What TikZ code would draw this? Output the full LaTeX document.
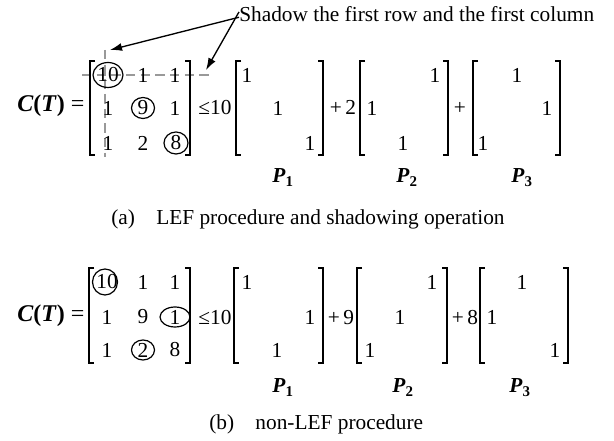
\documentclass[tikz,border=0pt]{standalone}
\usepackage{fontspec}
\setmainfont{Liberation Serif}
\usetikzlibrary{arrows.meta}

\tikzset{
  ent/.style={inner sep=0.75pt, font=\fontsize{16}{19}\selectfont},
  lhs/.style={inner sep=0.75pt, font=\fontsize{18}{21}\selectfont},
  brk/.style={line width=0.9pt},
  ring/.style={line width=0.9pt},
  shade/.style={gray!80, dash pattern=on 7pt off 4pt, line width=0.9pt},
  pointer/.style={-{Latex[length=9pt,width=6pt]}, line width=1pt},
}

\begin{document}
\begin{tikzpicture}[x=0.75pt,y=0.75pt,yscale=-1,xscale=1]
\useasboundingbox (0,0) rectangle (614,441);

%%%%%%%%%%%%%%%%%%%%%%%% (a) LEF
%Straight Lines [shadow row] 
\coordinate (hl) at (82,75);
\coordinate (hr) at (213,75);
\draw[shade] (hl) -- (hr) ;
%Straight Lines [shadow column] 
\coordinate (vt) at (105,50);
\coordinate (vb) at (105,157);
\draw[shade] (vt) -- (vb) ;

%Shape: Bracket [C]
\draw[brk] (95,61) -- (90,61) -- (90,155) -- (95,155) ;
\draw[brk] (185,61) -- (190,61) -- (190,155) -- (185,155) ;
%Shape: Bracket [P1]
\draw[brk] (241,61) -- (236,61) -- (236,155) -- (241,155) ;
\draw[brk] (318,61) -- (323,61) -- (323,155) -- (318,155) ;
%Shape: Bracket [P2]
\draw[brk] (365,61) -- (360,61) -- (360,155) -- (365,155) ;
\draw[brk] (443,61) -- (448,61) -- (448,155) -- (443,155) ;
%Shape: Bracket [P3]
\draw[brk] (478,61) -- (473,61) -- (473,155) -- (478,155) ;
\draw[brk] (555,61) -- (560,61) -- (560,155) -- (555,155) ;

% Text Node
\node[lhs, anchor=base west] (tct) at (16,112) {\textbf{\textit{C}}\textbf{(}\textbf{\textit{T}}\textbf{)} =};
% Text Node
\node[ent] (ta11) at (108,75) {10};
\node[ent] (ta12) at (143,75) {1};
\node[ent] (ta13) at (175,75) {1};
\node[ent] (ta21) at (108,108) {1};
\node[ent] (ta22) at (143,108) {9};
\node[ent] (ta23) at (175,108) {1};
\node[ent] (ta31) at (108,143) {1};
\node[ent] (ta32) at (143,143) {2};
\node[ent] (ta33) at (176,143) {8};
% Text Node
\node[ent, anchor=base] (tle) at (215,115) {≤10};
\node[ent] (tp1a) at (247,75) {1};
\node[ent] (tp1b) at (278,108) {1};
\node[ent] (tp1c) at (310,143) {1};
\node[ent, anchor=base] (tplus2) at (343,115) {+\,2};
\node[ent] (tp2a) at (435,75) {1};
\node[ent] (tp2b) at (372,108) {1};
\node[ent] (tp2c) at (403,143) {1};
\node[ent, anchor=base] (tplus) at (460,115) {+};
\node[ent] (tp3a) at (517,75) {1};
\node[ent] (tp3b) at (547,108) {1};
\node[ent] (tp3c) at (483,143) {1};
% Text Node
\node[ent, anchor=base] (tP1) at (283,183) {\textbf{\textit{P}}\textsubscript{\textbf{1}}};
\node[ent, anchor=base] (tP2) at (407,183) {\textbf{\textit{P}}\textsubscript{\textbf{2}}};
\node[ent, anchor=base] (tP3) at (522,183) {\textbf{\textit{P}}\textsubscript{\textbf{3}}};

%Shape: Ellipse [rings]
\draw[ring] (ta11) ellipse (15 and 12.5) ;
\draw[ring] (ta22) ellipse (11.5 and 10.5) ;
\draw[ring] (ta33) ellipse (12 and 11) ;

% Text Node
\node[ent, anchor=base west, inner sep=0pt] (shadowlbl) at (239,22) {Shadow the first row and the first column};
\coordinate (tipA) at (110,50);
\coordinate (tipB) at (206,70);
%Straight Lines [pointers] 
\draw[pointer] ([yshift=2pt]shadowlbl.west) -- (tipA) ;
\draw[pointer] ([yshift=-2pt]shadowlbl.west) -- (tipB) ;

% Text Node
\node[ent, anchor=base west] (capa) at (110,225) {(a)\hspace{16pt}LEF procedure and shadowing operation};

%%%%%%%%%%%%%%%%%%%%%%%% (b) non-LEF
%Shape: Bracket [C]
\draw[brk] (94,268) -- (89,268) -- (89,363) -- (94,363) ;
\draw[brk] (185,268) -- (190,268) -- (190,363) -- (185,363) ;
%Shape: Bracket [P1]
\draw[brk] (239,268) -- (234,268) -- (234,363) -- (239,363) ;
\draw[brk] (318,268) -- (323,268) -- (323,363) -- (318,363) ;
%Shape: Bracket [P2]
\draw[brk] (362,268) -- (357,268) -- (357,363) -- (362,363) ;
\draw[brk] (442,268) -- (447,268) -- (447,363) -- (442,363) ;
%Shape: Bracket [P3]
\draw[brk] (485,268) -- (480,268) -- (480,363) -- (485,363) ;
\draw[brk] (563,268) -- (568,268) -- (568,363) -- (563,363) ;

% Text Node
\node[lhs, anchor=base west] (bct) at (16,322) {\textbf{\textit{C}}\textbf{(}\textbf{\textit{T}}\textbf{)} =};
% Text Node
\node[ent] (ba11) at (107,282) {10};
\node[ent] (ba12) at (143,282) {1};
\node[ent] (ba13) at (175,282) {1};
\node[ent] (ba21) at (107,317) {1};
\node[ent] (ba22) at (143,317) {9};
\node[ent] (ba23) at (175,317) {1};
\node[ent] (ba31) at (107,350) {1};
\node[ent] (ba32) at (143,350) {2};
\node[ent] (ba33) at (175,350) {8};
% Text Node
\node[ent, anchor=base] (ble) at (215,325) {≤10};
\node[ent] (bp1a) at (247,282) {1};
\node[ent] (bp1b) at (310,317) {1};
\node[ent] (bp1c) at (277,350) {1};
\node[ent, anchor=base] (bplus9) at (341,325) {+\,9};
\node[ent] (bp2a) at (432,282) {1};
\node[ent] (bp2b) at (400,317) {1};
\node[ent] (bp2c) at (370,350) {1};
\node[ent, anchor=base] (bplus8) at (465,325) {+\,8};
\node[ent] (bp3a) at (522,282) {1};
\node[ent] (bp3b) at (492,317) {1};
\node[ent] (bp3c) at (555,350) {1};
% Text Node
\node[ent, anchor=base] (bP1) at (283,393) {\textbf{\textit{P}}\textsubscript{\textbf{1}}};
\node[ent, anchor=base] (bP2) at (403,393) {\textbf{\textit{P}}\textsubscript{\textbf{2}}};
\node[ent, anchor=base] (bP3) at (520,393) {\textbf{\textit{P}}\textsubscript{\textbf{3}}};

%Shape: Ellipse [rings]
\draw[ring] ([xshift=-1.5pt]ba11) ellipse (12.5 and 13) ;
\draw[ring] (ba23) ellipse (15 and 10) ;
\draw[ring] (ba32) ellipse (11.5 and 10) ;

% Text Node
\node[ent, anchor=base west] (capb) at (208,430) {(b)\hspace{16pt}non-LEF procedure};

\end{tikzpicture}
\end{document}
